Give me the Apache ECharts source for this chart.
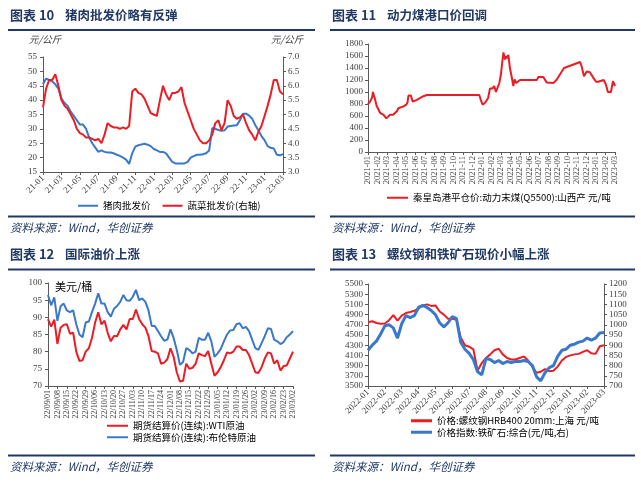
<!DOCTYPE html>
<html><head><meta charset="utf-8">
<script src="https://cdn.jsdelivr.net/npm/echarts@6/dist/echarts.min.js"></script>
<style>html,body{margin:0;padding:0;background:#fff}#c{width:641px;height:482px}</style>
</head><body><div id="c"></div>
<script>
// ---------- Panel 1: pork & vegetable wholesale price (3 samples / month) ----------
const porkMonths = ['21-01','21-02','21-03','21-04','21-05','21-06','21-07','21-08','21-09','21-10','21-11','21-12',
  '22-01','22-02','22-03','22-04','22-05','22-06','22-07','22-08','22-09','22-10','22-11','22-12','23-01','23-02','23-03'];
const porkPrice = [
  45.5,47.5,47.0, 46.5,45.5,44.0, 40.5,39.0,38.0, 36.0,34.5,33.0, 31.5,31.5,30.0, 27.0,25.0,23.5,
  22.0,22.5,22.0, 21.8,21.8,21.5, 21.0,20.6,20.0, 19.3,17.8,21.5, 23.8,24.3,24.6, 24.8,24.5,24.0,
  23.0,22.5,22.0, 22.0,21.5,20.0, 18.5,18.0,18.0, 18.0,18.0,18.5, 20.0,20.5,21.0, 21.0,21.2,21.5,
  22.5,30.3,30.0, 29.6,29.3,29.5, 30.8,31.0,31.2, 31.3,33.0,35.3, 35.3,34.6,33.5, 31.3,29.5,27.5,
  26.1,24.0,23.4, 23.2,21.0,20.8, 21.2];
const vegPrice = [
  5.25,5.9,6.2, 6.2,6.4,6.0, 5.5,5.3,5.2, 5.0,4.8,4.5, 4.35,4.3,4.2, 4.2,4.15,4.1,
  4.15,4.0,4.3, 4.7,4.6,4.55, 4.55,4.5,4.55, 4.5,4.6,5.8, 5.9,5.75,5.7, 5.55,5.3,5.05,
  5.0,4.95,5.5, 6.0,5.7,5.5, 5.75,5.75,5.8, 5.95,5.4,5.1, 4.8,4.5,4.3, 4.1,4.0,4.0,
  4.1,4.3,4.7, 4.8,4.45,4.7, 5.5,5.3,4.95, 4.85,4.9,5.0, 4.7,4.45,4.3, 4.1,4.4,4.6,
  4.95,5.3,5.7, 6.2,6.2,5.8, 5.7];

// ---------- Panel 2: thermal coal port price ----------
const coalTickLabels = ['2021-01','2021-02','2021-03','2021-04','2021-05','2021-06','2021-07','2021-08','2021-09','2021-10','2021-11','2021-12',
  '2022-01','2022-02','2022-03','2022-04','2022-05','2022-06','2022-07','2022-08','2022-09','2022-10','2022-11','2022-12','2023-01','2023-02','2023-03'];
const coalDates = ['2021-01-01','2021-01-08','2021-01-15','2021-01-17','2021-01-24','2021-01-29','2021-02-09','2021-02-19','2021-02-27',
  '2021-03-04','2021-03-11','2021-03-21','2021-04-02','2021-04-07','2021-04-12','2021-04-23','2021-05-02','2021-05-06','2021-05-09',
  '2021-05-17','2021-05-23','2021-06-05','2021-06-26','2021-07-07','2021-12-23','2021-12-28','2022-01-03','2022-01-11','2022-01-21',
  '2022-01-27','2022-02-04','2022-02-07','2022-02-09','2022-02-14','2022-02-19','2022-02-24','2022-03-01','2022-03-04','2022-03-09',
  '2022-03-14','2022-03-17','2022-03-20','2022-03-25','2022-03-30','2022-04-03','2022-04-07','2022-04-10','2022-04-14','2022-04-19',
  '2022-04-24','2022-05-01','2022-06-24','2022-06-29','2022-07-15','2022-07-20','2022-07-26','2022-08-17','2022-08-27','2022-09-08',
  '2022-09-20','2022-11-11','2022-11-16','2022-11-23','2022-11-27','2022-12-02','2022-12-12','2022-12-23','2023-01-01','2023-01-08',
  '2023-01-13','2023-01-26','2023-02-02','2023-02-08','2023-02-17','2023-02-23','2023-02-27','2023-03-01'];
const coalPrice = [800,840,920,1000,880,770,650,620,560,
  570,620,620,680,730,720,760,790,830,940,
  940,840,870,930,950,950,870,790,820,900,
  1060,1060,1040,1100,1000,1000,1150,1300,1450,1660,
  1540,1600,1560,1620,1400,1300,1290,1100,1210,1150,
  1180,1200,1200,1250,1250,1240,1160,1150,1200,1300,
  1400,1500,1420,1260,1300,1340,1330,1240,1170,1170,
  1200,1200,1130,1000,1000,1180,1180,1100];

// ---------- Panel 3: crude oil futures (3 samples / week) ----------
const oilWeeks = ['22/09/01','22/09/08','22/09/15','22/09/22','22/09/29','22/10/06','22/10/13','22/10/20','22/10/27','22/11/03',
  '22/11/10','22/11/17','22/11/24','22/12/01','22/12/08','22/12/15','22/12/22','22/12/29','23/01/05','23/01/12','23/01/19',
  '23/01/26','23/02/02','23/02/09','23/02/16','23/02/23','23/03/02'];
const wtiPrice = [89.5,87.3,89.3,82.3,87,87.8,88,85.2,85.5,80, 77.3,77.5,80,81,84,88.5,91.5,88,89,85.5,
  83,84.6,84.5,86.5,87.8,86.5,89.5,89.5,92.3,89.5, 88,87,84.5,80.2,80,79.5,76.5,76.8,77.8,81,
  78.5,74,71.3,71.5,76.5,75,75.3,76.5,79.5,79, 78.7,80.2,76.5,73,74,75.5,77.5,79.8,79.5,80,
  81.5,81.5,80.5,80.5,79,76.5,74,73.8,75.5,78, 79.8,79.5,76.5,77.5,74.5,75.8,76,78,80];
const brentPrice = [96.5,93.5,95.8,89,93.2,94,92,91.5,92,88, 85,84.2,88.5,88.8,91.5,94,97,94,94,91.5,
  90.2,92.5,93.3,94.5,96.5,95,94.8,96,98,95, 95.5,94.5,92,87.5,87.5,86,84.5,83.2,83.5,86.5,
  84,80.5,76.2,77,81,80.5,79.5,80,84,83.5, 83.5,85.5,83,78.5,79.5,80.8,83,85,86.2,86.3,
  88,88.3,86.8,87.2,86,83.5,81,80.5,82.5,84.5, 86.8,86.6,83.5,83,82.2,82.8,84.2,85,86];

// ---------- Panel 4: rebar & iron ore (4 samples / month) ----------
const steelMonths = ['2022-01','2022-02','2022-03','2022-04','2022-05','2022-06','2022-07','2022-08','2022-09','2022-10','2022-11','2022-12','2023-01','2023-02','2023-03'];
const rebarPrice = [4750,4770,4735,4720,4725,4790,4890,4780,4880,4930, 4950,4975,5020,5080,5100,5070,5080,4960,4900,4820,
  4820,4800,4450,4300,4270,4220,3800,3950,4050,4120, 4200,4230,4120,4050,4020,4020,4050,4080,4000,3880,
  3760,3780,3830,3790,3800,3880,4000,4070,4100,4120, 4130,4170,4200,4140,4130,4280,4300];
const orePrice = [875,900,920,955,995,1000,985,935,1005,1045, 1035,1045,1085,1095,1085,1070,1050,1010,990,1010,
  1040,1030,915,880,860,830,770,755,835,830, 815,825,810,820,815,820,820,825,820,800,
  745,725,765,790,800,845,875,880,900,905, 915,920,935,925,935,960,962];

// ---------- helpers ----------
function expand(labels, n) { const out = []; labels.forEach((l, i) => { out.push(l); if (i < labels.length - 1) for (let k = 1; k < n; k++) out.push(''); }); return out; }
function monthPos(d) { const [y, m, dd] = d.split('-').map(Number); const dim = new Date(y, m, 0).getDate(); return (y - 2021) * 12 + (m - 1) + (dd - 1) / dim; }

const NAVY = '#1f3864', RED = '#ec1c24', BLUE = '#3a78c9', AX = '#595959';
const numFont = 'Liberation Serif';
const cjk = '"Noto Sans CJK SC"';
const axLine = { lineStyle: { color: AX, width: 1 } };
const axTick = { length: 3, lineStyle: { color: AX } };
const plain = v => String(v);
const lab = (extra) => Object.assign({ fontSize: 9, color: '#404040', fontFamily: numFont }, extra || {});

const graphics = [];
function panelFrame(x0, x1, yTitle, yRule, yRule2, ySrc, num, title) {
  graphics.push({ type: 'text', left: x0 + 2, top: yTitle - 8, style: { text: '图表 ' + num, font: 'bold 13px ' + cjk, fill: NAVY } });
  graphics.push({ type: 'text', left: x0 + 57, top: yTitle - 8, style: { text: title, font: 'bold 12.5px ' + cjk, fill: NAVY } });
  graphics.push({ type: 'line', shape: { x1: x0, y1: yRule, x2: x1, y2: yRule }, style: { stroke: NAVY, lineWidth: 2 } });
  graphics.push({ type: 'line', shape: { x1: x0, y1: yRule2, x2: x1, y2: yRule2 }, style: { stroke: NAVY, lineWidth: 2 } });
  graphics.push({ type: 'text', left: x0 + 2, top: ySrc - 7, style: { text: '资料来源：Wind，华创证券', font: 'italic 11.5px ' + cjk, fill: NAVY } });
}
panelFrame(8, 315, 17, 30, 216.5, 229, '10', '猪肉批发价略有反弹');
panelFrame(330, 635, 17, 30, 216.5, 229, '11', '动力煤港口价回调');
panelFrame(8, 315, 256, 269.5, 455.5, 468, '12', '国际油价上涨');
panelFrame(330, 635, 256, 269.5, 455.5, 468, '13', '螺纹钢和铁矿石现价小幅上涨');
graphics.push({ type: 'text', left: 29, top: 35, style: { text: '元/公斤', font: 'italic 9.5px ' + cjk, fill: '#404040' } });
graphics.push({ type: 'text', left: 271, top: 35, style: { text: '元/公斤', font: 'italic 9.5px ' + cjk, fill: '#404040' } });
graphics.push({ type: 'text', left: 55, top: 281, style: { text: '美元/桶', font: '11px ' + cjk, fill: '#000' } });

const legendText = { fontSize: 9.5, color: '#000', fontFamily: cjk };

const option = {
  animation: false,
  backgroundColor: '#fff',
  graphic: graphics,
  grid: [
    { left: 43, top: 57, width: 240, height: 115 },
    { left: 368, top: 44, width: 247, height: 108 },
    { left: 48, top: 283, width: 245, height: 103 },
    { left: 368, top: 284, width: 236, height: 102 }
  ],
  legend: [
    { left: 78, top: 201, padding: 0, itemGap: 12, icon: 'rect', itemWidth: 20, itemHeight: 2, textStyle: legendText, data: ['猪肉批发价', '蔬菜批发价(右轴)'] },
    { left: 387, top: 193, padding: 0, icon: 'rect', itemWidth: 21, itemHeight: 2, textStyle: legendText, data: ['秦皇岛港平仓价:动力末煤(Q5500):山西产 元/吨'] },
    { left: 107, top: 421, padding: 0, orient: 'vertical', itemGap: 2, icon: 'rect', itemWidth: 21, itemHeight: 2, textStyle: legendText, data: ['期货结算价(连续):WTI原油', '期货结算价(连续):布伦特原油'] },
    { left: 411, top: 416, padding: 0, orient: 'vertical', itemGap: 2, icon: 'rect', itemWidth: 21, itemHeight: 3, textStyle: legendText, data: ['价格:螺纹钢HRB400 20mm:上海 元/吨', '价格指数:铁矿石:综合(元/吨,右)'] }
  ],
  xAxis: [
    { gridIndex: 0, type: 'category', boundaryGap: false, data: expand(porkMonths, 3), axisLine: axLine,
      axisTick: Object.assign({ interval: 5 }, axTick), axisLabel: lab({ interval: 5, rotate: 45, margin: 5 }), splitLine: { show: false } },
    { gridIndex: 1, type: 'value', min: 0, max: 26, interval: 1, axisLine: axLine, axisTick: axTick,
      axisLabel: lab({ rotate: 90, margin: 4, fontSize: 8.5, formatter: v => coalTickLabels[Math.round(v)] || '' }), splitLine: { show: false } },
    { gridIndex: 2, type: 'category', boundaryGap: false, data: expand(oilWeeks, 3), axisLine: axLine,
      axisTick: Object.assign({ interval: 2 }, axTick), axisLabel: lab({ interval: 2, rotate: 90, margin: 4, fontSize: 8 }), splitLine: { show: false } },
    { gridIndex: 3, type: 'category', boundaryGap: false, data: expand(steelMonths, 4), axisLine: axLine,
      axisTick: Object.assign({ interval: 3 }, axTick), axisLabel: lab({ interval: 3, rotate: 45, margin: 5 }), splitLine: { show: false } }
  ],
  yAxis: [
    { gridIndex: 0, type: 'value', position: 'left', min: 15, max: 55, interval: 5, axisLine: Object.assign({ show: true }, axLine), axisTick: Object.assign({ show: true }, axTick), axisLabel: lab({ margin: 6, formatter: plain }), splitLine: { show: false } },
    { gridIndex: 0, type: 'value', position: 'right', min: 3, max: 7, interval: 0.5, axisLine: Object.assign({ show: true }, axLine), axisTick: Object.assign({ show: true }, axTick), axisLabel: lab({ margin: 5, formatter: v => v.toFixed(1) }), splitLine: { show: false } },
    { gridIndex: 1, type: 'value', min: 0, max: 1800, interval: 200, axisLine: Object.assign({ show: true }, axLine), axisTick: Object.assign({ show: true }, axTick), axisLabel: lab({ margin: 5, formatter: plain }), splitLine: { show: false } },
    { gridIndex: 2, type: 'value', min: 70, max: 100, interval: 5, axisLine: Object.assign({ show: true }, axLine), axisTick: Object.assign({ show: true }, axTick), axisLabel: lab({ margin: 6, formatter: plain }), splitLine: { show: false } },
    { gridIndex: 3, type: 'value', position: 'left', min: 3500, max: 5500, interval: 200, axisLine: Object.assign({ show: true }, axLine), axisTick: Object.assign({ show: true }, axTick), axisLabel: lab({ margin: 5, formatter: plain }), splitLine: { show: false } },
    { gridIndex: 3, type: 'value', position: 'right', min: 700, max: 1200, interval: 50, axisLine: Object.assign({ show: true }, axLine), axisTick: Object.assign({ show: true }, axTick), axisLabel: lab({ margin: 5, formatter: plain }), splitLine: { show: false } }
  ],
  series: [
    { name: '猪肉批发价', type: 'line', xAxisIndex: 0, yAxisIndex: 0, data: porkPrice, showSymbol: false, color: BLUE, lineStyle: { width: 2 } },
    { name: '蔬菜批发价(右轴)', type: 'line', xAxisIndex: 0, yAxisIndex: 1, data: vegPrice, showSymbol: false, color: RED, lineStyle: { width: 2 } },
    { name: '秦皇岛港平仓价:动力末煤(Q5500):山西产 元/吨', type: 'line', xAxisIndex: 1, yAxisIndex: 2,
      data: coalDates.map((d, i) => [monthPos(d), coalPrice[i]]), showSymbol: false, color: RED, lineStyle: { width: 2 } },
    { name: '期货结算价(连续):WTI原油', type: 'line', xAxisIndex: 2, yAxisIndex: 3, data: wtiPrice, showSymbol: false, color: RED, lineStyle: { width: 2 } },
    { name: '期货结算价(连续):布伦特原油', type: 'line', xAxisIndex: 2, yAxisIndex: 3, data: brentPrice, showSymbol: false, color: BLUE, lineStyle: { width: 2 } },
    { name: '价格:螺纹钢HRB400 20mm:上海 元/吨', type: 'line', xAxisIndex: 3, yAxisIndex: 4, data: rebarPrice, showSymbol: false, color: RED, lineStyle: { width: 2 } },
    { name: '价格指数:铁矿石:综合(元/吨,右)', type: 'line', xAxisIndex: 3, yAxisIndex: 5, data: orePrice, showSymbol: false, color: BLUE, lineStyle: { width: 3 } }
  ]
};
const chart = echarts.init(document.getElementById('c'), null, { renderer: 'canvas' });
chart.setOption(option);
</script></body></html>
